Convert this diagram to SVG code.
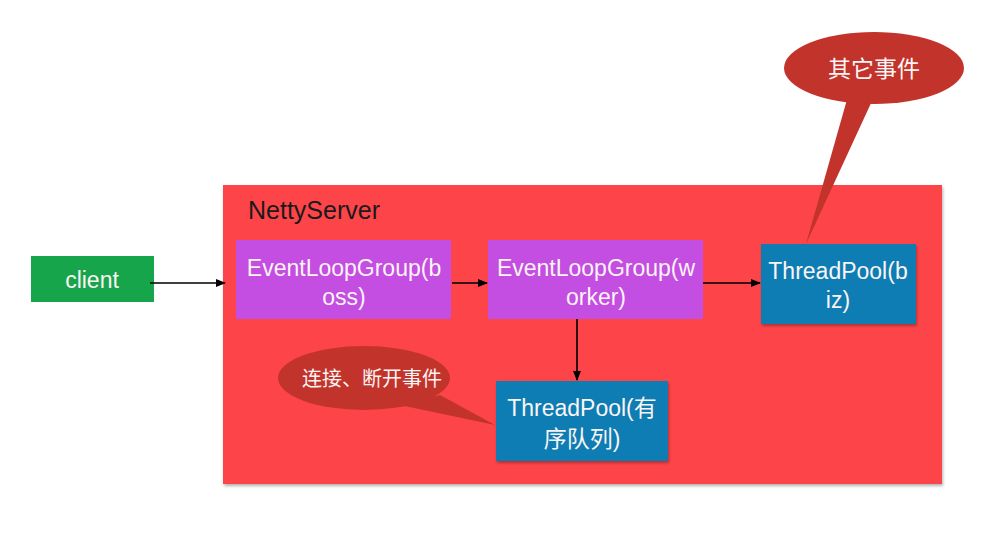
<svg xmlns="http://www.w3.org/2000/svg" width="981" height="549" viewBox="0 0 981 549">
<defs>
<style>
.t{font-family:"Helvetica Neue","Liberation Sans","Noto Sans CJK SC",sans-serif;fill:#fbf4f4;font-size:23px;text-anchor:middle}
.c{stroke:#000;stroke-width:1.6;fill:none;marker-end:url(#ah)}
.bub{fill:#c2332b}
</style>
<marker id="ah" markerWidth="10" markerHeight="8" refX="9" refY="4" orient="auto" markerUnits="userSpaceOnUse">
<path d="M0,0 L10,4 L0,8 z" fill="#000"/>
</marker>
<filter id="sh" x="-10%" y="-10%" width="130%" height="130%">
<feDropShadow dx="1" dy="2" stdDeviation="1.5" flood-color="#000" flood-opacity="0.3"/>
</filter>
</defs>
<rect width="981" height="549" fill="#fff"/>
<g id="server">
<rect x="223" y="185" width="719" height="299" fill="#fd4448" filter="url(#sh)"/>
<text x="248" y="219" font-family="'Helvetica Neue','Liberation Sans',sans-serif" font-size="25" fill="#1a1a1a">NettyServer</text>
</g>
<g id="bubble-top">
<path class="bub" d="M848,96 L806,244 L872,101 z"/>
<ellipse class="bub" cx="874" cy="68" rx="90" ry="36"/>
<text class="t" x="874" y="77" style="font-size:23px">其它事件</text>
</g>
<g id="client">
<rect x="31" y="256" width="123" height="46" fill="#17a54b"/>
<text class="t" x="92" y="288">client</text>
</g>
<g id="boss">
<rect x="236" y="240" width="215" height="79" fill="#c44de2"/>
<text class="t" x="344" y="276">EventLoopGroup(b</text>
<text class="t" x="344" y="305">oss)</text>
</g>
<g id="worker">
<rect x="488" y="240" width="215" height="79" fill="#c44de2"/>
<text class="t" x="596" y="276">EventLoopGroup(w</text>
<text class="t" x="596" y="305">orker)</text>
</g>
<g id="biz">
<rect x="761" y="244" width="155" height="80" fill="#0c7db3" filter="url(#sh)"/>
<text class="t" x="838" y="279">ThreadPool(b</text>
<text class="t" x="838" y="308">iz)</text>
</g>
<g id="bubble-bottom">
<path class="bub" d="M440,395 L495,425 L400,405 z"/>
<ellipse class="bub" cx="364" cy="378" rx="86" ry="32"/>
<text class="t" x="372" y="386" style="font-size:20px">连接、断开事件</text>
</g>
<g id="ordered">
<rect x="496" y="381" width="172" height="80" fill="#0c7db3" filter="url(#sh)"/>
<text class="t" x="582" y="416">ThreadPool(有</text>
<text class="t" x="582" y="447">序队列)</text>
</g>
<g id="connectors">
<line class="c" x1="150" y1="283" x2="225" y2="283"/>
<line class="c" x1="452" y1="283" x2="487" y2="283"/>
<line class="c" x1="703" y1="283" x2="760" y2="283"/>
<line class="c" x1="577" y1="319" x2="577" y2="380"/>
</g>
</svg>
